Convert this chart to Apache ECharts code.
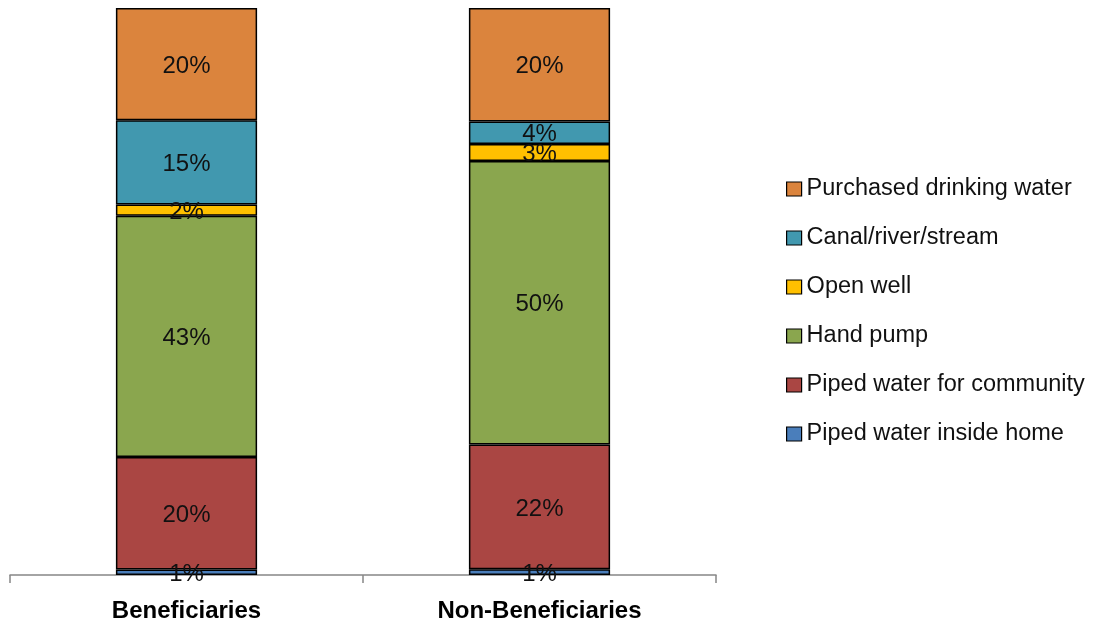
<!DOCTYPE html>
<html>
<head>
<meta charset="utf-8">
<script src="https://cdn.jsdelivr.net/npm/echarts@6/dist/echarts.min.js"></script>
<style>
  html, body { margin: 0; padding: 0; background: #fff; }
  #chart { width: 1096px; height: 627px; }
</style>
</head>
<body>
<div id="chart"></div>
<script>
// Main source of drinking water, by group (percent shares)
const categories = ['Beneficiaries', 'Non-Beneficiaries'];
const sources = [
  'Piped water inside home',
  'Piped water for community',
  'Hand pump',
  'Open well',
  'Canal/river/stream',
  'Purchased drinking water'
];
const pipedInsideHome   = [1, 1];
const pipedCommunity    = [20, 22];
const handPump          = [43, 50];
const openWell          = [2, 3];
const canalRiverStream  = [15, 4];
const purchasedWater    = [20, 20];

const seriesValues = [pipedInsideHome, pipedCommunity, handPump, openWell, canalRiverStream, purchasedWater];
const colors = ['#4A7EBB', '#AA4643', '#8AA64E', '#FFC000', '#4198AF', '#DB843D'];

// 100% stacked: each segment is drawn as its share of the column total
const totals = categories.map((_, i) => seriesValues.reduce((s, arr) => s + arr[i], 0));

const FONT = '"Liberation Sans", Arial, sans-serif';

const series = sources.map((name, k) => ({
  name: name,
  type: 'bar',
  stack: 'total',
  barWidth: '40%',
  data: seriesValues[k].map((v, i) => ({ value: v / totals[i] * 100, raw: v })),
  itemStyle: { color: colors[k], borderColor: '#000', borderWidth: 1.5 },
  label: {
    show: true,
    position: 'inside',
    offset: [0, 2],
    color: '#111',
    fontFamily: FONT,
    fontSize: 24,
    formatter: p => p.data.raw + '%'
  }
}));

const chart = echarts.init(document.getElementById('chart'), null, { renderer: 'canvas' });
chart.setOption({
  animation: false,
  backgroundColor: '#fff',
  grid: { left: 10, right: 380, top: 8, bottom: 52, containLabel: false },
  xAxis: {
    type: 'category',
    data: categories,
    axisLine: { show: true, lineStyle: { color: '#868686', width: 1.5 } },
    axisTick: { show: true, inside: false, length: 8, alignWithLabel: false, lineStyle: { color: '#868686', width: 1.5 } },
    axisLabel: { color: '#000', fontFamily: FONT, fontSize: 24, fontWeight: 'bold', margin: 24 }
  },
  yAxis: {
    type: 'value',
    min: 0,
    max: 100,
    show: false,
    splitLine: { show: false }
  },
  legend: {
    orient: 'vertical',
    left: 781,
    top: 172,
    data: sources.slice().reverse(),
    icon: 'rect',
    itemWidth: 15,
    itemHeight: 14,
    itemGap: 25,
    itemStyle: { borderColor: '#000', borderWidth: 1.2 },
    textStyle: { color: '#111', fontFamily: FONT, fontSize: 23.5, lineHeight: 24 }
  },
  series: series
});
</script>
</body>
</html>
